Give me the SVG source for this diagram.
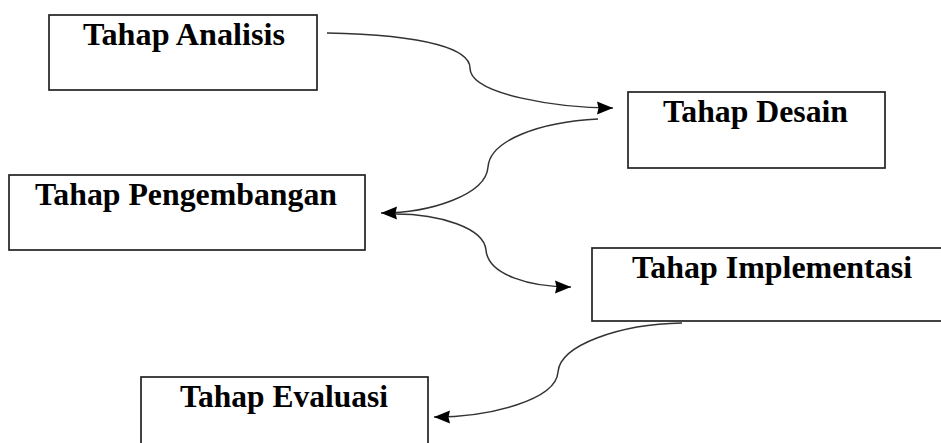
<svg xmlns="http://www.w3.org/2000/svg" width="941" height="443" viewBox="0 0 941 443">
<style>
.box{fill:#fff;stroke:#222;stroke-width:1.7}
.lbl{font-family:"Liberation Serif","Times New Roman",serif;font-weight:bold;font-size:31px;fill:#000}
.con{fill:none;stroke:#333;stroke-width:1.5}
</style>
<defs>
<marker id="ah" markerUnits="userSpaceOnUse" markerWidth="18" markerHeight="15" refX="16" refY="7" orient="auto">
<path d="M0,0.5 L16,7 L0,13.5 L1.5,7 z" fill="#000"/>
</marker>
</defs>
<rect width="941" height="443" fill="#fff"/>
<g id="analisis"><rect class="box" x="49" y="15" width="268" height="75"/><text class="lbl" x="83" y="45" textLength="202" lengthAdjust="spacingAndGlyphs">Tahap Analisis</text></g>
<g id="desain"><rect class="box" x="628" y="92" width="257" height="76"/><text class="lbl" x="663" y="122" textLength="185" lengthAdjust="spacingAndGlyphs">Tahap Desain</text></g>
<g id="pengembangan"><rect class="box" x="9" y="175" width="356" height="75"/><text class="lbl" x="35" y="205" textLength="302" lengthAdjust="spacingAndGlyphs">Tahap Pengembangan</text></g>
<g id="implementasi"><rect class="box" x="592" y="248" width="360" height="73"/><text class="lbl" x="632" y="278" textLength="280" lengthAdjust="spacingAndGlyphs">Tahap Implementasi</text></g>
<g id="evaluasi"><rect class="box" x="141" y="377" width="287" height="80"/><text class="lbl" x="180" y="407" textLength="208" lengthAdjust="spacingAndGlyphs">Tahap Evaluasi</text></g>
<g id="connectors">
<path class="con" marker-end="url(#ah)" d="M327,33 C430,35 470,50 470,68 C470,95 560,108 613,108"/>
<path class="con" marker-end="url(#ah)" d="M598,119 C540,122 490,140 488,167 C486,195 430,213 381,213"/>
<path class="con" marker-end="url(#ah)" d="M395,214 C440,214 484,228 486,250 C488,275 530,287 571,287"/>
<path class="con" marker-end="url(#ah)" d="M682,323 C620,324 560,345 558,372 C556,400 490,417 434,417"/>
</g>
</svg>
